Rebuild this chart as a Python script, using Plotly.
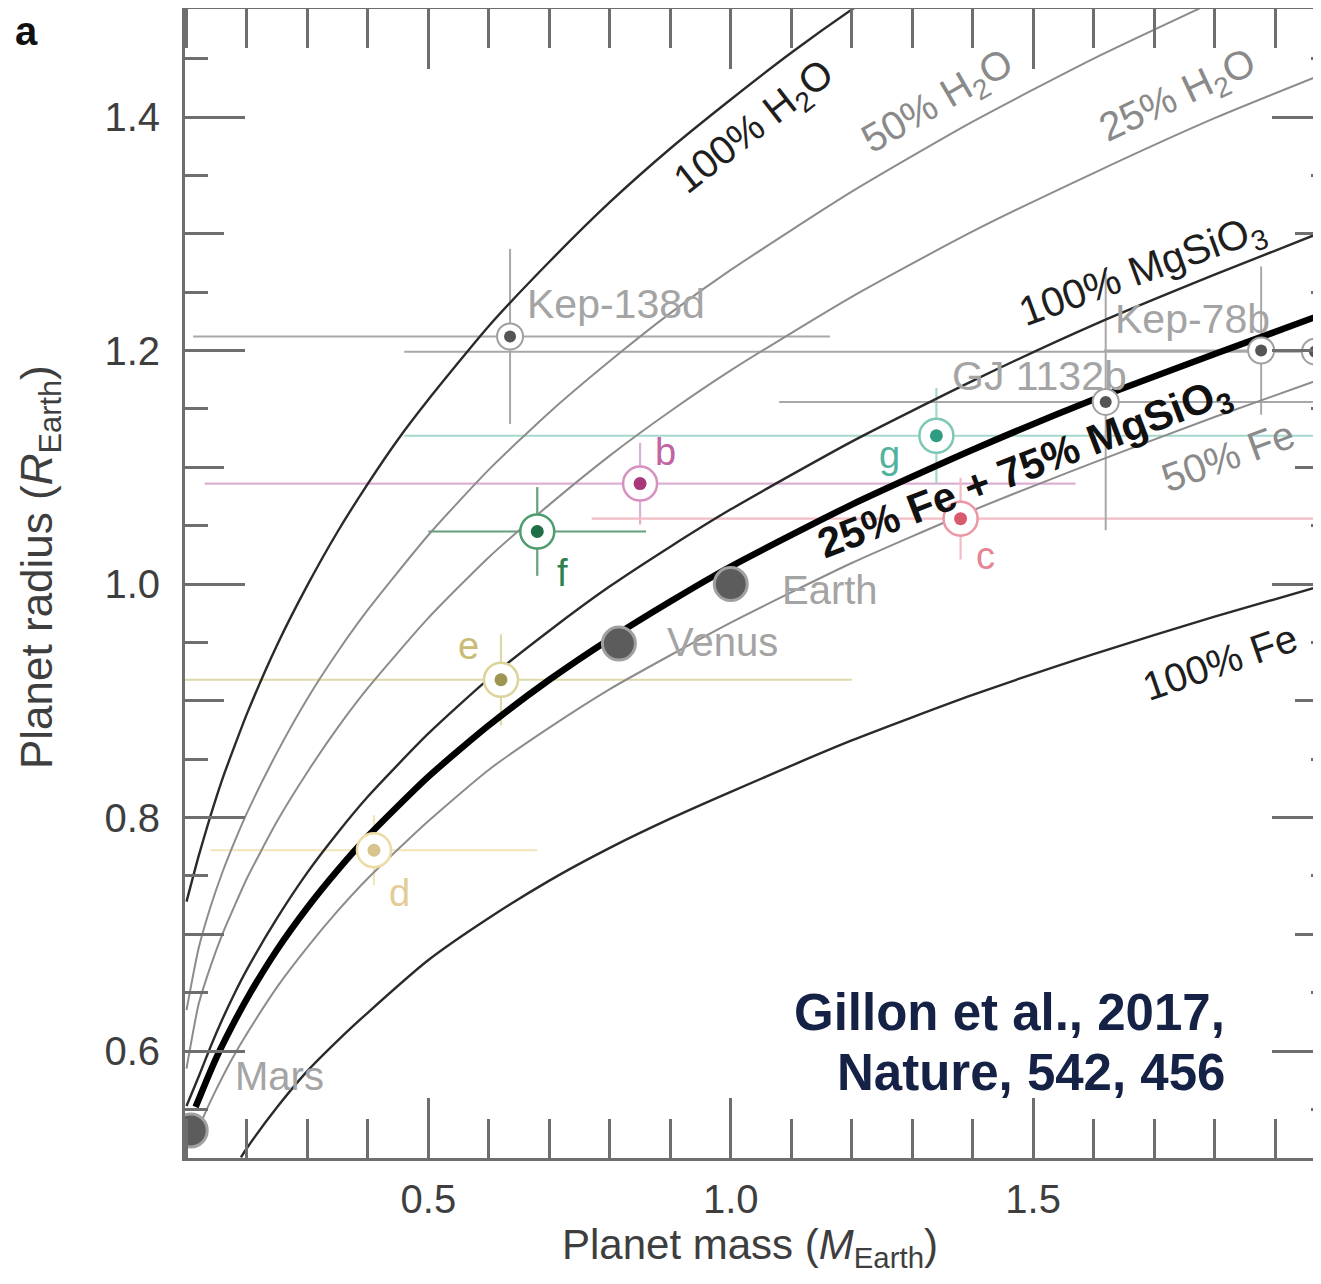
import plotly.graph_objects as go

# ---------------- composition curves (mass M_Earth, radius R_Earth) ----------------
h2o100_mass = [0.10, 0.12, 0.14, 0.16, 0.18, 0.20, 0.25, 0.30, 0.35, 0.40, 0.45, 0.50, 0.60, 0.70, 0.80, 0.90, 1.00, 1.10, 1.20, 1.25]
h2o100_radius = [0.728, 0.767, 0.802, 0.834, 0.862, 0.889, 0.948, 0.999, 1.045, 1.086, 1.124, 1.158, 1.221, 1.276, 1.327, 1.373, 1.415, 1.455, 1.492, 1.509]

h2o50_mass = [0.10, 0.12, 0.14, 0.16, 0.18, 0.20, 0.25, 0.30, 0.35, 0.40, 0.50, 0.60, 0.70, 0.80, 0.90, 1.00, 1.20, 1.40, 1.60, 1.80]
h2o50_radius = [0.635, 0.688, 0.724, 0.754, 0.780, 0.804, 0.856, 0.902, 0.942, 0.978, 1.042, 1.098, 1.147, 1.191, 1.232, 1.269, 1.336, 1.396, 1.450, 1.499]

h2o25_mass = [0.10, 0.12, 0.14, 0.16, 0.18, 0.20, 0.25, 0.30, 0.35, 0.40, 0.50, 0.60, 0.70, 0.80, 0.90, 1.00, 1.20, 1.40, 1.60, 1.80, 2.00]
h2o25_radius = [0.585, 0.640, 0.673, 0.701, 0.725, 0.748, 0.797, 0.839, 0.877, 0.911, 0.971, 1.023, 1.068, 1.110, 1.148, 1.183, 1.246, 1.302, 1.352, 1.399, 1.441]

mgsio3_mass = [0.10, 0.12, 0.14, 0.16, 0.18, 0.20, 0.25, 0.30, 0.35, 0.40, 0.50, 0.60, 0.70, 0.80, 0.90, 1.00, 1.20, 1.40, 1.60, 1.80, 2.00]
mgsio3_radius = [0.553, 0.578, 0.604, 0.628, 0.650, 0.670, 0.714, 0.753, 0.787, 0.818, 0.872, 0.919, 0.960, 0.998, 1.032, 1.064, 1.122, 1.174, 1.222, 1.265, 1.306]

fe25_mass = [0.115, 0.13, 0.15, 0.175, 0.20, 0.25, 0.30, 0.35, 0.40, 0.50, 0.60, 0.70, 0.80, 0.90, 1.00, 1.20, 1.40, 1.60, 1.80, 2.00]
fe25_radius = [0.552, 0.571, 0.595, 0.621, 0.645, 0.687, 0.723, 0.755, 0.784, 0.835, 0.879, 0.918, 0.953, 0.985, 1.015, 1.068, 1.115, 1.158, 1.197, 1.235]

fe50_mass = [0.115, 0.13, 0.15, 0.175, 0.20, 0.25, 0.30, 0.35, 0.40, 0.50, 0.60, 0.70, 0.80, 0.90, 1.00, 1.20, 1.40, 1.60, 1.80, 2.00]
fe50_radius = [0.527, 0.546, 0.568, 0.593, 0.615, 0.655, 0.689, 0.720, 0.748, 0.797, 0.841, 0.877, 0.910, 0.939, 0.967, 1.018, 1.063, 1.104, 1.143, 1.180]

fe100_mass = [0.19, 0.20, 0.25, 0.30, 0.35, 0.40, 0.50, 0.60, 0.70, 0.80, 0.90, 1.00, 1.20, 1.40, 1.60, 1.80, 2.00]
fe100_radius = [0.509, 0.517, 0.552, 0.583, 0.609, 0.633, 0.678, 0.714, 0.746, 0.774, 0.799, 0.822, 0.866, 0.905, 0.940, 0.972, 1.002]

# ---------------- TRAPPIST-1 planets ----------------
trap_names = ["b", "c", "d", "e", "f", "g"]
trap_mass = [0.85, 1.38, 0.41, 0.62, 0.68, 1.34]
trap_mass_err = [0.72, 0.61, 0.27, 0.58, 0.18, 0.88]
trap_radius = [1.086, 1.056, 0.772, 0.918, 1.045, 1.127]
trap_radius_err = [0.035, 0.035, 0.030, 0.039, 0.038, 0.041]

# ---------------- other exoplanets ----------------
exo_names = ["Kep-138d", "GJ 1132b", "Kep-78b", ""]
exo_mass = [0.635, 1.62, 1.877, 1.966]
exo_mass_lo = [0.524, 0.54, 0.26, 1.506]
exo_mass_hi = [0.529, 0.55, 0.26, 0.50]
exo_radius = [1.212, 1.156, 1.200, 1.199]
exo_radius_lo = [0.075, 0.11, 0.055, 0.070]
exo_radius_hi = [0.075, 0.11, 0.072, 0.067]

# ---------------- solar system ----------------
sol_names = ["Mars", "Venus", "Earth"]
sol_mass = [0.107, 0.815, 1.0]
sol_radius = [0.532, 0.949, 1.0]

# ---------------- citation ----------------
citation_lines = ["Gillon et al., 2017,", "Nature, 542, 456"]

# ---------------- styles ----------------
FONT = "Liberation Sans, Arial, sans-serif"
trap_style = {
    "b": dict(dot="#a8387a", ring="#d890c0", err="#dcb0d4", label="#c264a4", off=(25, 32)),
    "c": dict(dot="#d95a6c", ring="#eb98a4", err="#f2bcc4", label="#e48494", off=(25, -37)),
    "d": dict(dot="#d8c48c", ring="#ecdca4", err="#f0e4b8", label="#e4cc98", off=(26, -43)),
    "e": dict(dot="#9c9652", ring="#ddd49c", err="#ded9aa", label="#cabb74", off=(-32, 34)),
    "f": dict(dot="#1e6e46", ring="#4f9c6e", err="#64a07c", label="#2e8050", off=(25, -42)),
    "g": dict(dot="#2e9c80", ring="#7cc8b6", err="#a4d8cc", label="#52b2a0", off=(-47, -19)),
}
exo_label_style = [
    dict(xanchor="left", off=(15, 33)),
    dict(xanchor="right", off=(23, 26)),
    dict(xanchor="right", off=(11, 32)),
    dict(xanchor="left", off=(0, 0)),
]
sol_label_off = [(42, 54), (46, 2), (49, -6)]

XR = [0.0975, 1.976]
YR = [0.5084, 1.4925]

fig = go.Figure()

# error bars (drawn first, below curves)
for i, n in enumerate(trap_names):
    st = trap_style[n]
    fig.add_trace(go.Scatter(
        x=[trap_mass[i]], y=[trap_radius[i]], mode="markers",
        marker=dict(size=1, color="rgba(0,0,0,0)"),
        error_x=dict(type="data", array=[trap_mass_err[i]], color=st["err"], thickness=2.2, width=0),
        error_y=dict(type="data", array=[trap_radius_err[i]], color=st["err"], thickness=2.2, width=0),
        hoverinfo="skip", showlegend=False))
for i in range(len(exo_names)):
    fig.add_trace(go.Scatter(
        x=[exo_mass[i]], y=[exo_radius[i]], mode="markers",
        marker=dict(size=1, color="rgba(0,0,0,0)"),
        error_x=dict(type="data", symmetric=False, array=[exo_mass_hi[i]], arrayminus=[exo_mass_lo[i]],
                     color="#a8a8a8", thickness=2.0, width=0),
        error_y=dict(type="data", symmetric=False, array=[exo_radius_hi[i]], arrayminus=[exo_radius_lo[i]],
                     color="#a8a8a8", thickness=2.0, width=0),
        hoverinfo="skip", showlegend=False))

# curves
curves = [
    (h2o100_mass, h2o100_radius, "#2a2a2a", 2.4),
    (h2o50_mass, h2o50_radius, "#8c8c8c", 2.0),
    (h2o25_mass, h2o25_radius, "#8c8c8c", 2.0),
    (mgsio3_mass, mgsio3_radius, "#2a2a2a", 2.4),
    (fe50_mass, fe50_radius, "#8c8c8c", 2.0),
    (fe100_mass, fe100_radius, "#2a2a2a", 2.4),
    (fe25_mass, fe25_radius, "#000000", 6.5),
]
for xm, yr, col, w in curves:
    fig.add_trace(go.Scatter(x=xm, y=yr, mode="lines",
                             line=dict(color=col, width=w, shape="spline", smoothing=0.6),
                             hoverinfo="skip", showlegend=False))

# solar system bodies
fig.add_trace(go.Scatter(x=sol_mass, y=sol_radius, mode="markers",
                         marker=dict(size=33, color="#5c5c5c", line=dict(color="#a0a0a0", width=3)),
                         hoverinfo="skip", showlegend=False))

# other exoplanets markers
fig.add_trace(go.Scatter(x=exo_mass, y=exo_radius, mode="markers",
                         marker=dict(size=26, color="white", line=dict(color="#a0a0a0", width=2)),
                         hoverinfo="skip", showlegend=False))
fig.add_trace(go.Scatter(x=exo_mass, y=exo_radius, mode="markers",
                         marker=dict(size=12, color="#555555"),
                         hoverinfo="skip", showlegend=False))

# TRAPPIST-1 markers
for i, n in enumerate(trap_names):
    st = trap_style[n]
    fig.add_trace(go.Scatter(x=[trap_mass[i]], y=[trap_radius[i]], mode="markers",
                             marker=dict(size=34, color="white", line=dict(color=st["ring"], width=2.5)),
                             hoverinfo="skip", showlegend=False))
    fig.add_trace(go.Scatter(x=[trap_mass[i]], y=[trap_radius[i]], mode="markers",
                             marker=dict(size=13, color=st["dot"]),
                             hoverinfo="skip", showlegend=False))

# helper traces for extra tick axes
for ax in ["y2", "y3", "y4"]:
    fig.add_trace(go.Scatter(x=[XR[0]], y=[YR[0]], yaxis=ax, mode="markers",
                             marker=dict(size=1, color="rgba(0,0,0,0)"),
                             showlegend=False, hoverinfo="skip"))

ann = []
for i, n in enumerate(trap_names):
    st = trap_style[n]
    ann.append(dict(x=trap_mass[i], y=trap_radius[i], xref="x", yref="y", text=n, showarrow=False,
                    xshift=st["off"][0], yshift=st["off"][1],
                    font=dict(family=FONT, size=38, color=st["label"])))
for i, n in enumerate(exo_names):
    if not n:
        continue
    st = exo_label_style[i]
    ann.append(dict(x=exo_mass[i], y=exo_radius[i], xref="x", yref="y", text=n, showarrow=False,
                    xanchor=st["xanchor"], xshift=st["off"][0], yshift=st["off"][1],
                    font=dict(family=FONT, size=41, color="#a4a4a4")))
for i, n in enumerate(sol_names):
    ann.append(dict(x=sol_mass[i], y=sol_radius[i], xref="x", yref="y", text=n, showarrow=False,
                    xanchor="left", xshift=sol_label_off[i][0], yshift=sol_label_off[i][1],
                    font=dict(family=FONT, size=40, color="#a4a4a4")))

curve_labels = [
    ("100% H<sub>2</sub>O", 1.040, 1.391, -38, "#1e1e1e", False, 40),
    ("50% H<sub>2</sub>O", 1.343, 1.412, -30, "#8a8a8a", False, 40),
    ("25% H<sub>2</sub>O", 1.740, 1.417, -25, "#8a8a8a", False, 40),
    ("100% MgSiO<sub>3</sub>", 1.682, 1.267, -20, "#1e1e1e", False, 41),
    ("25% Fe + 75% MgSiO<sub>3</sub>", 1.487, 1.098, -21, "#111111", True, 42),
    ("50% Fe", 1.822, 1.110, -20, "#8a8a8a", False, 40),
    ("100% Fe", 1.809, 0.933, -19, "#1e1e1e", False, 40),
]
for txt, x, y, ang, col, bold, fs in curve_labels:
    ann.append(dict(x=x, y=y, xref="x", yref="y", text=("<b>%s</b>" % txt) if bold else txt,
                    showarrow=False, textangle=ang,
                    font=dict(family=FONT, size=fs, color=col)))

# panel letter
ann.append(dict(x=-0.1391, y=0.98085, xref="paper", yref="paper", xanchor="center", yanchor="middle",
                text="<b>a</b>", showarrow=False,
                font=dict(family=FONT, size=40, color="#111111")))
# axis titles
ann.append(dict(x=-0.1276, y=0.5144, xref="paper", yref="paper", xanchor="center", yanchor="middle",
                text="Planet radius (<i>R</i><sub>Earth</sub>)", textangle=-90, showarrow=False,
                font=dict(family=FONT, size=44, color="#3e3e3e")))
ann.append(dict(x=0.4974, y=-0.0775, xref="paper", yref="paper", xanchor="center", yanchor="middle",
                text="Planet mass (<i>M</i><sub>Earth</sub>)", showarrow=False,
                font=dict(family=FONT, size=42, color="#3e3e3e")))
# citation
for line_txt, yv in zip(citation_lines, [0.6334, 0.5820]):
    ann.append(dict(x=1.821, y=yv, xref="x", yref="y", xanchor="right", yanchor="middle",
                    text="<b>%s</b>" % line_txt, showarrow=False,
                    font=dict(family=FONT, size=51, color="#152246")))

AXC = "#6e6e6e"
tickfont = dict(family=FONT, size=40, color="#3e3e3e")

fig.update_layout(
    width=1313, height=1268,
    margin=dict(l=177, r=0, t=1, b=118, pad=0, autoexpand=False),
    paper_bgcolor="white", plot_bgcolor="white",
    showlegend=False,
    annotations=ann,
    xaxis=dict(range=XR, showgrid=False, zeroline=False, showline=True, linecolor=AXC, linewidth=3,
               mirror="ticks", ticks="inside", ticklen=60, tickwidth=2.5, tickcolor=AXC, automargin=False,
               dtick=0.5, tick0=0, tickformat=".1f", tickfont=tickfont, ticklabelstandoff=4,
               minor=dict(ticks="inside", dtick=0.1, tick0=0, ticklen=39, tickwidth=2.5, tickcolor=AXC)),
    yaxis=dict(range=YR, showgrid=False, zeroline=False, showline=True, linecolor=AXC, linewidth=3,
               mirror=False, ticks="inside", ticklen=60, tickwidth=2.5, tickcolor=AXC, automargin=False,
               dtick=0.2, tick0=0, tickformat=".1f", tickfont=tickfont, ticklabelstandoff=14,
               minor=dict(ticks="inside", dtick=0.05, tick0=0, ticklen=23, tickwidth=2.5, tickcolor=AXC)),
    yaxis2=dict(range=YR, overlaying="y", side="left", anchor="x", showgrid=False, zeroline=False,
                showline=False, ticks="inside", ticklen=39, tickwidth=2.5, tickcolor=AXC, automargin=False,
                dtick=0.1, tick0=0, showticklabels=False),
    yaxis3=dict(range=YR, overlaying="y", side="right", anchor="x", showgrid=False, zeroline=False,
                showline=False, ticks="inside", ticklen=49, tickwidth=2.5, tickcolor=AXC, automargin=False,
                dtick=0.2, tick0=0, showticklabels=False,
                minor=dict(ticks="inside", dtick=0.05, tick0=0, ticklen=10, tickwidth=2.5, tickcolor=AXC)),
    yaxis4=dict(range=YR, overlaying="y", side="right", anchor="x", showgrid=False, zeroline=False,
                showline=False, ticks="inside", ticklen=26, tickwidth=2.5, tickcolor=AXC, automargin=False,
                dtick=0.1, tick0=0, showticklabels=False),
)

fig.write_html("out.html")
